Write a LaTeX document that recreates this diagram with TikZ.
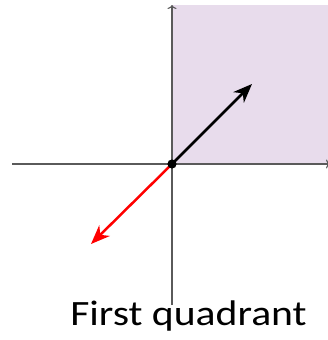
\documentclass[tikz,border=0pt]{standalone}
\usepackage{fontspec}
\setmainfont{Carlito}
\usetikzlibrary{arrows.meta}
\definecolor{quadfill}{RGB}{232,220,236}
\definecolor{axisgray}{RGB}{90,90,90}
\tikzset{
  axisline/.style={draw=axisgray, line width=1.1pt, -{To[length=4pt,width=9pt]}},
  vecline/.style={line width=2.5pt, -{Stealth[length=19pt,width=15pt,inset=6pt]}},
}
\begin{document}
\begin{tikzpicture}[x=1pt,y=-1pt]
\useasboundingbox (0,0) rectangle (328,340);
\fill[quadfill] (172,5) rectangle (328,164);
\coordinate (O) at (172,164);
\coordinate (xl) at (12,164);
\coordinate (xr) at (330,164);
\coordinate (yb) at (172,305);
\coordinate (yt) at (172,5);
\draw[axisline] (xl) -- (xr);
\draw[axisline] (yb) -- (yt);
\coordinate (A) at (252,84);
\coordinate (B) at (91,244);
\draw[vecline, black] (O) -- (A);
\draw[vecline, red] (O) -- (B);
\fill[black] (O) circle (4.6);
\node[anchor=base, font=\fontsize{35.6}{40}\selectfont, xscale=1.17, inner sep=0pt] (lbl) at (188.5,325) {First quadrant};
\end{tikzpicture}
\end{document}
